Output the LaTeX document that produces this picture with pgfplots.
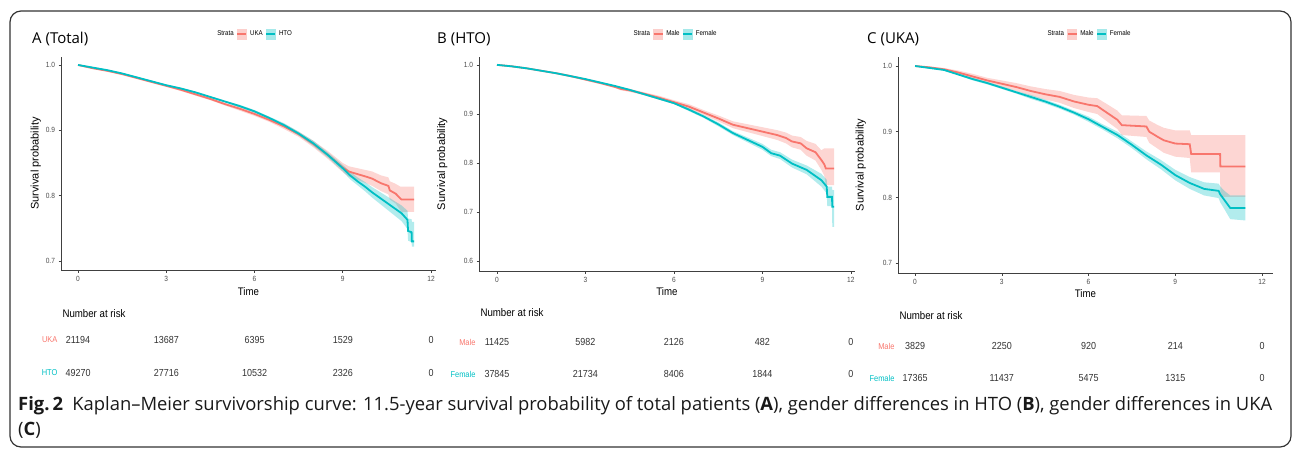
\documentclass[border=0pt]{standalone}
\usepackage{fontspec}
\setmainfont{Liberation Sans}[FakeStretch=0.88]
\newfontfamily\plainsans{Liberation Sans}
\newfontfamily\titlefont{Open Sans}
\newfontfamily\capfont{Open Sans}
\usepackage{pgfplots}
\pgfplotsset{compat=1.18}
\usepackage{pgfplotstable}
\usepgfplotslibrary{fillbetween}
\definecolor{ggred}{HTML}{F8766D}
\definecolor{ggteal}{HTML}{00BFC4}
\definecolor{tickgray}{HTML}{4D4D4D}

% t = years, s = survival, lo/hi = 95% CI
\pgfplotstableread{
t s lo hi
0 1.000 1.000 1.000
0.5 0.995 0.994 0.996
1 0.991 0.990 0.992
1.5 0.986 0.985 0.987
2 0.980 0.979 0.981
2.5 0.974 0.973 0.975
3 0.968 0.967 0.969
3.5 0.962 0.960 0.964
4 0.955 0.953 0.957
4.5 0.948 0.946 0.950
5 0.940 0.938 0.942
5.5 0.933 0.930 0.936
6 0.925 0.922 0.928
6.5 0.916 0.913 0.919
7 0.906 0.902 0.910
7.5 0.894 0.890 0.898
8 0.879 0.874 0.884
8.5 0.862 0.856 0.868
9 0.843 0.836 0.850
9.2 0.837 0.829 0.845
9.5 0.833 0.824 0.842
9.8 0.829 0.819 0.839
10 0.826 0.815 0.837
10.3 0.819 0.807 0.831
10.55 0.815 0.802 0.828
10.6 0.808 0.794 0.822
10.8 0.803 0.788 0.818
10.95 0.796 0.778 0.814
11 0.794 0.775 0.814
11.43 0.794 0.775 0.814
}\aUKA
\pgfplotstableread{
t s lo hi
0 1.000 1.000 1.000
0.5 0.996 0.995 0.997
1 0.992 0.991 0.993
1.5 0.987 0.986 0.988
2 0.981 0.980 0.982
2.5 0.975 0.974 0.976
3 0.969 0.968 0.970
3.5 0.964 0.963 0.965
4 0.958 0.957 0.959
4.5 0.951 0.950 0.952
5 0.944 0.943 0.945
5.5 0.937 0.935 0.939
6 0.929 0.927 0.931
6.5 0.919 0.917 0.921
7 0.908 0.905 0.911
7.5 0.895 0.892 0.898
8 0.880 0.876 0.884
8.5 0.862 0.858 0.866
9 0.842 0.837 0.847
9.25 0.831 0.825 0.837
9.5 0.822 0.816 0.828
9.75 0.814 0.807 0.821
10 0.805 0.797 0.813
10.25 0.797 0.788 0.806
10.5 0.789 0.779 0.799
10.75 0.781 0.770 0.792
11 0.773 0.761 0.785
11.2 0.763 0.749 0.777
11.22 0.746 0.731 0.765
11.34 0.744 0.729 0.764
11.35 0.730 0.722 0.760
11.43 0.730 0.722 0.760
}\aHTO
\pgfplotstableread{
t s lo hi
0 1.000 1.000 1.000
0.5 0.997 0.996 0.998
1 0.993 0.992 0.994
1.5 0.988 0.987 0.989
2 0.983 0.982 0.984
2.5 0.977 0.975 0.979
3 0.970 0.968 0.972
3.5 0.963 0.961 0.965
4 0.955 0.953 0.957
4.2 0.951 0.948 0.954
4.5 0.948 0.945 0.951
5 0.941 0.938 0.944
5.5 0.933 0.929 0.937
6 0.924 0.920 0.928
6.5 0.915 0.910 0.920
7 0.903 0.898 0.908
7.5 0.891 0.885 0.897
8 0.878 0.871 0.885
8.5 0.871 0.863 0.879
9 0.864 0.855 0.873
9.5 0.857 0.847 0.867
9.8 0.851 0.840 0.862
10 0.844 0.832 0.856
10.3 0.840 0.827 0.853
10.5 0.830 0.815 0.845
10.8 0.822 0.805 0.839
11 0.806 0.786 0.826
11.1 0.797 0.774 0.830
11.15 0.789 0.755 0.830
11.43 0.789 0.755 0.830
}\bMale
\pgfplotstableread{
t s lo hi
0 1.000 1.000 1.000
0.5 0.997 0.996 0.998
1 0.993 0.992 0.994
1.5 0.988 0.987 0.989
2 0.983 0.982 0.984
2.5 0.977 0.976 0.978
3 0.971 0.970 0.972
3.5 0.964 0.963 0.965
4 0.957 0.956 0.958
4.5 0.949 0.947 0.951
5 0.940 0.938 0.942
5.5 0.931 0.929 0.933
6 0.922 0.920 0.924
6.5 0.909 0.906 0.912
7 0.895 0.892 0.898
7.5 0.879 0.875 0.883
8 0.861 0.857 0.865
8.5 0.847 0.842 0.852
9 0.833 0.827 0.839
9.3 0.820 0.814 0.827
9.6 0.815 0.808 0.822
10 0.799 0.791 0.807
10.5 0.786 0.777 0.795
11 0.765 0.752 0.778
11.18 0.752 0.738 0.766
11.2 0.731 0.712 0.752
11.36 0.731 0.712 0.752
11.37 0.711 0.670 0.745
11.43 0.711 0.670 0.745
}\bFemale
\pgfplotstableread{
t s lo hi
0 1.000 1.000 1.000
0.5 0.998 0.997 0.999
1 0.995 0.993 0.997
1.5 0.990 0.987 0.993
2 0.984 0.980 0.988
2.5 0.978 0.974 0.982
3 0.973 0.968 0.978
3.5 0.968 0.962 0.974
4 0.962 0.955 0.969
4.5 0.957 0.949 0.965
5 0.953 0.944 0.962
5.5 0.946 0.936 0.956
6 0.941 0.930 0.952
6.3 0.939 0.927 0.951
6.6 0.930 0.917 0.943
7 0.918 0.904 0.932
7.15 0.910 0.895 0.925
8 0.908 0.892 0.924
8.1 0.900 0.883 0.917
8.4 0.892 0.874 0.910
8.6 0.887 0.868 0.906
9 0.882 0.862 0.902
9.5 0.881 0.860 0.902
9.55 0.866 0.838 0.895
10.55 0.866 0.838 0.895
10.56 0.847 0.801 0.895
11.42 0.847 0.801 0.895
}\cMale
\pgfplotstableread{
t s lo hi
0 1.000 1.000 1.000
0.5 0.997 0.996 0.998
1 0.994 0.993 0.995
1.5 0.987 0.986 0.988
2 0.980 0.978 0.982
2.5 0.974 0.972 0.976
3 0.967 0.965 0.969
3.5 0.960 0.958 0.962
4 0.953 0.950 0.956
4.5 0.946 0.943 0.949
5 0.938 0.935 0.941
5.5 0.929 0.926 0.932
6 0.919 0.915 0.923
6.5 0.907 0.903 0.911
7 0.895 0.890 0.900
7.5 0.880 0.875 0.885
8 0.864 0.858 0.870
8.5 0.850 0.843 0.857
9 0.834 0.826 0.842
9.5 0.822 0.813 0.831
10 0.813 0.803 0.823
10.5 0.810 0.799 0.821
10.55 0.805 0.793 0.817
10.7 0.796 0.782 0.810
10.9 0.784 0.767 0.803
11.42 0.784 0.765 0.803
}\cFemale

\pgfplotsset{
  km/.style={
    scale only axis,
    axis x line*=bottom, axis y line*=left,
    axis line style={line width=0.9pt, black!75, -},
    tick align=outside, major tick length=2.5pt,
    tick style={black!75, line width=0.6pt},
    xtick={0,3,6,9,12}, xticklabels={0,3,6,9,12},
    tick label style={font=\fontsize{7.5}{8}\selectfont, text=tickgray},
    xlabel={Time}, ylabel={\plainsans Survival probability},
    label style={font=\fontsize{11}{12}\selectfont},
    legend style={draw=none, fill=none, anchor=center,
      font=\fontsize{7}{8}\selectfont, legend columns=-1,
      /tikz/every even column/.append style={column sep=1pt},
      /tikz/every odd column/.append style={column sep=1pt}},
  },
  curve/.style={sharp plot, line width=1.8pt, #1, forget plot},
  bandfill/.style={fill=#1, fill opacity=0.3, draw=none, forget plot},
  redkey/.style={legend image code/.code={
    \fill[ggred!35] (0pt,-5pt) rectangle (9pt,5pt);
    \draw[ggred, line width=1.3pt] (0pt,0pt) -- (9pt,0pt);}},
  tealkey/.style={legend image code/.code={
    \fill[ggteal!35] (0pt,-5pt) rectangle (9pt,5pt);
    \draw[ggteal, line width=1.3pt] (0pt,0pt) -- (9pt,0pt);}},
  risk/.style={
    scale only axis, clip=false,
    axis line style={draw=none}, tick style={draw=none},
    y dir=reverse, ymin=0.5, ymax=2.5, ytick={1,2},
    xtick=\empty, major tick length=0pt,
    yticklabel style={font=\fontsize{8.5}{9}\selectfont},
  },
  risknum/.style={draw=none, mark=none, nodes near coords,
    point meta=explicit symbolic,
    every node near coord/.append style={anchor=center,
      font=\fontsize{10.2}{11}\selectfont, text=black!80}},
}

\begin{document}
\begin{tikzpicture}
\draw[line width=1.2pt, black!80, rounded corners=11pt] (10pt,-11pt) rectangle (1291pt,-447pt);

% ---------- A (Total)
\node[anchor=base west, inner sep=0, font=\titlefont\fontsize{15}{16}\selectfont] at (32pt,-43pt) {A (Total)};
\begin{axis}[km, at={(61pt,-270pt)}, anchor=south west, width=375pt, height=213pt,
  xmin=-0.58, xmax=12.17, ymin=0.6862, ymax=1.0122,
  ytick={0.7,0.8,0.9,1.0}, yticklabels={0.7,0.8,0.9,1.0},
  xlabel style={at={(axis description cs:0.5,-0.103)}, anchor=center},
  ylabel style={at={(axis description cs:-0.067,0.5)}, anchor=center},
  legend style={at={(0.515,1.108)}}, legend entries={Strata,UKA,HTO}]
\addlegendimage{empty legend}
\addlegendimage{redkey}
\addlegendimage{tealkey}
\addplot[name path=ul, draw=none, forget plot] table[x=t,y=lo]{\aUKA};
\addplot[name path=uh, draw=none, forget plot] table[x=t,y=hi]{\aUKA};
\addplot[bandfill=ggred] fill between[of=ul and uh];
\addplot[name path=hl, draw=none, forget plot] table[x=t,y=lo]{\aHTO};
\addplot[name path=hh, draw=none, forget plot] table[x=t,y=hi]{\aHTO};
\addplot[bandfill=ggteal] fill between[of=hl and hh];
\addplot[curve=ggred] table[x=t,y=s]{\aUKA};
\addplot[curve=ggteal] table[x=t,y=s]{\aHTO};
\end{axis}
\node[anchor=west, font=\fontsize{11}{12}\selectfont] at (59pt,-314pt) {Number at risk};
\begin{axis}[risk, at={(61pt,-323.5pt)}, anchor=north west, width=375pt, height=66pt,
  xmin=-0.58, xmax=12.17, yticklabels={{\color{ggred}UKA},{\color{ggteal}HTO}}]
\addplot[risknum] coordinates {(0,1)[21194] (3,1)[13687] (6,1)[6395] (9,1)[1529] (12,1)[0]};
\addplot[risknum] coordinates {(0,2)[49270] (3,2)[27716] (6,2)[10532] (9,2)[2326] (12,2)[0]};
\end{axis}

% ---------- B (HTO)
\node[anchor=base west, inner sep=0, font=\titlefont\fontsize{15}{16}\selectfont] at (437pt,-43pt) {B (HTO)};
\begin{axis}[km, at={(479pt,-271pt)}, anchor=south west, width=376pt, height=214pt,
  xmin=-0.61, xmax=12.14, ymin=0.580, ymax=1.016,
  ytick={0.6,0.7,0.8,0.9,1.0}, yticklabels={0.6,0.7,0.8,0.9,1.0},
  xlabel style={at={(axis description cs:0.5,-0.098)}, anchor=center},
  ylabel style={at={(axis description cs:-0.098,0.5)}, anchor=center},
  legend style={at={(0.52,1.107)}}, legend entries={Strata,Male,Female}]
\addlegendimage{empty legend}
\addlegendimage{redkey}
\addlegendimage{tealkey}
\addplot[name path=ml, draw=none, forget plot] table[x=t,y=lo]{\bMale};
\addplot[name path=mh, draw=none, forget plot] table[x=t,y=hi]{\bMale};
\addplot[bandfill=ggred] fill between[of=ml and mh];
\addplot[name path=fl, draw=none, forget plot] table[x=t,y=lo]{\bFemale};
\addplot[name path=fh, draw=none, forget plot] table[x=t,y=hi]{\bFemale};
\addplot[bandfill=ggteal] fill between[of=fl and fh];
\addplot[curve=ggred] table[x=t,y=s]{\bMale};
\addplot[curve=ggteal] table[x=t,y=s]{\bFemale};
\end{axis}
\node[anchor=west, font=\fontsize{11}{12}\selectfont] at (477pt,-313pt) {Number at risk};
\begin{axis}[risk, at={(479pt,-326pt)}, anchor=north west, width=376pt, height=64pt,
  xmin=-0.61, xmax=12.14, yticklabels={{\color{ggred}Male},{\color{ggteal}Female}}]
\addplot[risknum] coordinates {(0,1)[11425] (3,1)[5982] (6,1)[2126] (9,1)[482] (12,1)[0]};
\addplot[risknum] coordinates {(0,2)[37845] (3,2)[21734] (6,2)[8406] (9,2)[1844] (12,2)[0]};
\end{axis}

% ---------- C (UKA)
\node[anchor=base west, inner sep=0, font=\titlefont\fontsize{15}{16}\selectfont] at (867pt,-43pt) {C (UKA)};
\begin{axis}[km, at={(898pt,-273pt)}, anchor=south west, width=375pt, height=216pt,
  xmin=-0.59, xmax=12.38, ymin=0.685, ymax=1.0137,
  ytick={0.7,0.8,0.9,1.0}, yticklabels={0.7,0.8,0.9,1.0},
  xlabel style={at={(axis description cs:0.5,-0.097)}, anchor=center},
  ylabel style={at={(axis description cs:-0.099,0.5)}, anchor=center},
  legend style={at={(0.508,1.106)}}, legend entries={Strata,Male,Female}]
\addlegendimage{empty legend}
\addlegendimage{redkey}
\addlegendimage{tealkey}
\addplot[name path=ml, draw=none, forget plot] table[x=t,y=lo]{\cMale};
\addplot[name path=mh, draw=none, forget plot] table[x=t,y=hi]{\cMale};
\addplot[bandfill=ggred] fill between[of=ml and mh];
\addplot[name path=fl, draw=none, forget plot] table[x=t,y=lo]{\cFemale};
\addplot[name path=fh, draw=none, forget plot] table[x=t,y=hi]{\cFemale};
\addplot[bandfill=ggteal] fill between[of=fl and fh];
\addplot[curve=ggred] table[x=t,y=s]{\cMale};
\addplot[curve=ggteal] table[x=t,y=s]{\cFemale};
\end{axis}
\node[anchor=west, font=\fontsize{11}{12}\selectfont] at (896pt,-316pt) {Number at risk};
\begin{axis}[risk, at={(898pt,-330pt)}, anchor=north west, width=375pt, height=64pt,
  xmin=-0.59, xmax=12.38, yticklabels={{\color{ggred}Male},{\color{ggteal}Female}}]
\addplot[risknum] coordinates {(0,1)[3829] (3,1)[2250] (6,1)[920] (9,1)[214] (12,1)[0]};
\addplot[risknum] coordinates {(0,2)[17365] (3,2)[11437] (6,2)[5475] (9,2)[1315] (12,2)[0]};
\end{axis}

% ---------- caption
\node[anchor=base west, inner sep=0, text=black!90, font=\capfont\fontsize{18.4}{21}\selectfont] at (18pt,-410pt)
  {\textbf{Fig.\,2}\hspace{0.5em}Kaplan–Meier survivorship curve: 11.5-year survival probability of total patients (\textbf{A}), gender differences in HTO (\textbf{B}), gender differences in UKA};
\node[anchor=base west, inner sep=0, text=black!90, font=\capfont\fontsize{18.4}{21}\selectfont] at (18pt,-435pt)
  {(\textbf{C})};

\pgfresetboundingbox
\useasboundingbox (0pt,0pt) rectangle (1292pt,-448pt);
\end{tikzpicture}
\end{document}
